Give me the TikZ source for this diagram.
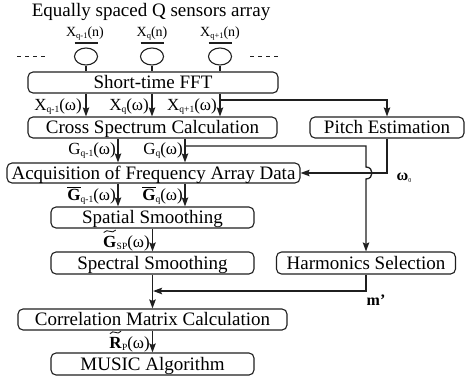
\documentclass[tikz,border=0pt]{standalone}
\usepackage{fontspec}
\setmainfont{Liberation Serif}
\usetikzlibrary{arrows.meta,shapes.geometric,calc}
\newcommand\sbx[1]{\raisebox{-2.2pt}{\fontsize{9.5}{10}\selectfont #1}}
\newcommand\sbs[1]{\raisebox{-2pt}{\fontsize{8.5}{9}\selectfont #1}}
\newcommand\ovl[1]{\leavevmode\vbox{\hrule height 1.1pt\kern 1.2pt\hbox{#1}}}
\begin{document}
\begin{tikzpicture}[x=1pt,y=-1pt,
  box/.style={draw=black!88, line width=1.1pt, rounded corners=5pt, inner sep=0pt,
    font=\fontsize{19}{21}\selectfont, text height=12.6pt, text depth=0pt, minimum height=21pt},
  arr/.style={draw=black!88, line width=1.3pt, -{Stealth[length=9pt,width=6.5pt,inset=1.5pt]}},
  ln/.style={draw=black!88, line width=1.2pt},
  lab/.style={inner sep=0pt, anchor=east, font=\fontsize{17}{19}\selectfont},
  blab/.style={inner sep=0pt, anchor=base east, font=\fontsize{17}{19}\selectfont\bfseries},
  tl/.style={draw=black!90, line width=0.9pt},
  sens/.style={draw=black!88, line width=1.1pt, ellipse, minimum width=23pt, minimum height=17pt, inner sep=0pt}
]
\useasboundingbox (0,0) rectangle (465,383);

% title
\node[font=\fontsize{19}{21}\selectfont, inner sep=0pt] (title) at (151,12) {Equally spaced Q sensors array};

% sensors
\node[sens] (s1) at (86,56.5) {};
\node[sens] (s2) at (152,56.5) {};
\node[sens] (s3) at (220,56.5) {};
\node[font=\fontsize{14}{16}\selectfont, inner sep=0pt] (l1) at (85,34) {X\sbs{q-1}(n)};
\node[font=\fontsize{14}{16}\selectfont, inner sep=0pt] (l2) at (152,34) {X\sbs{q}(n)};
\node[font=\fontsize{14}{16}\selectfont, inner sep=0pt] (l3) at (220,34) {X\sbs{q+1}(n)};
\draw[ln, line width=1.1pt] ($(s1)+(-11.5,-13.5)$) -- ++(23,0);
\draw[ln, line width=1.1pt] ($(s2)+(-11.5,-13.5)$) -- ++(23,0);
\draw[ln, line width=1.1pt] ($(s3)+(-11.5,-13.5)$) -- ++(23,0);
\draw[ln, line width=1.1pt, dash pattern=on 4pt off 4pt] (17,56.5) -- (46,56.5);
\draw[ln, line width=1.1pt, dash pattern=on 4pt off 4pt] (250,56.5) -- (279,56.5);

% boxes
\node[box, minimum width=250pt] (fft) at (153,82.5) {Short-time FFT};
\node[box, minimum width=249pt] (cross) at (152.5,127.5) {Cross Spectrum Calculation};
\node[box, minimum width=154pt] (pitch) at (387,127.5) {Pitch Estimation};
\node[box, minimum width=293pt, minimum height=20pt] (acq) at (153.5,173) {Acquisition of Frequency Array Data};
\node[box, minimum width=203pt] (spat) at (152.5,217.5) {Spatial Smoothing};
\node[box, minimum width=203pt, minimum height=22pt] (spec) at (152.5,263) {Spectral Smoothing};
\node[box, minimum width=179pt, minimum height=22pt] (harm) at (366,263) {Harmonics Selection};
\node[box, minimum width=269pt] (corr) at (152.5,319.5) {Correlation Matrix Calculation};
\node[box, minimum width=203pt, minimum height=22pt] (music) at (152.5,364) {MUSIC Algorithm};

% sensor stems
\draw[ln, line width=1.1pt] (s1.south) -- (s1 |- fft.north);
\draw[ln, line width=1.1pt] (s2.south) -- (s2 |- fft.north);
\draw[ln, line width=1.1pt] (s3.south) -- (s3 |- fft.north);

% FFT -> cross
\draw[arr] (s1 |- fft.south) -- (s1 |- cross.north);
\draw[arr] (s2 |- fft.south) -- (s2 |- cross.north);
\draw[arr] (s3 |- fft.south) -- (s3 |- cross.north);
\coordinate (b1) at (220,100);
\draw[arr] (b1) -| (pitch.north);

% cross -> acq
\coordinate (g1) at (118,150);
\coordinate (g2) at (185,146);
\draw[arr] (g1 |- cross.south) -- (g1 |- acq.north);
\draw[arr] (g2 |- cross.south) -- (g2 |- acq.north);

% pitch -> acq
\draw[arr] (pitch.south) -- (pitch.south |- acq.east) -- (acq.east);

% branch to harmonics with jump
\coordinate (j1) at (366,167);
\coordinate (j2) at (366,179);
\coordinate (c1) at (374,167);
\coordinate (c2) at (374,179);
\draw[arr] (g2) -- (g2 -| harm.north) -- (j1) .. controls (c1) and (c2) .. (j2) -- (harm.north);

% acq -> spatial
\draw[arr] (g1 |- acq.south) -- (g1 |- spat.north);
\draw[arr] (g2 |- acq.south) -- (g2 |- spat.north);

\draw[arr] (spat.south) -- (spec.north);
\draw[arr] (spec.south) -- (corr.north);
\coordinate (m1) at (152.5,291);
\draw[arr, shorten >=0.6pt] (harm.south) |- (m1);
\draw[arr] (corr.south) -- (music.north);

% labels
\node[lab] (lx1) at (82,107) {X\sbx{q-1}(ω)};
\node[lab] (lx2) at (149,107) {X\sbx{q}(ω)};
\node[lab] (lx3) at (217,107) {X\sbx{q+1}(ω)};
\node[lab] (lg1) at (116,151) {G\sbx{q-1}(ω)};
\node[lab] (lg2) at (183,151) {G\sbx{q}(ω)};
\node[lab] (lb1) at (116,196) {\ovl{\bfseries G}\sbx{q-1}(ω)};
\node[lab] (lb2) at (183,196) {\ovl{\bfseries G}\sbx{q}(ω)};

% tilde G_SP
\node[lab, anchor=base east] (lt) at (150,247) {\sbx{SP}(ω)};
\node[blab] (tG) at (lt.base west) {G};
\draw[tl] ($(tG.north west)+(0.8,-3)$) .. controls ($(tG.north west)+(4.5,-8)$) and ($(tG.north east)+(-4.5,-0.5)$) .. ($(tG.north east)+(-0.8,-5.5)$);

% tilde R_P
\node[lab, anchor=base east] (lr) at (150,348) {\sbx{P}(ω)};
\node[blab] (tR) at (lr.base west) {R};
\draw[tl] ($(tR.north west)+(0.8,-3)$) .. controls ($(tR.north west)+(4.5,-8)$) and ($(tR.north east)+(-4.5,-0.5)$) .. ($(tR.north east)+(-0.8,-5.5)$);

\node[inner sep=0pt, font=\fontsize{16}{18}\selectfont] (w0) at (404,178) {\textbf{ω}\raisebox{-1.5pt}{\fontsize{6}{6}\selectfont 0}};
\node[inner sep=0pt, font=\fontsize{16}{18}\selectfont] (mp) at (376,300) {\textbf{m’}};
\end{tikzpicture}
\end{document}
